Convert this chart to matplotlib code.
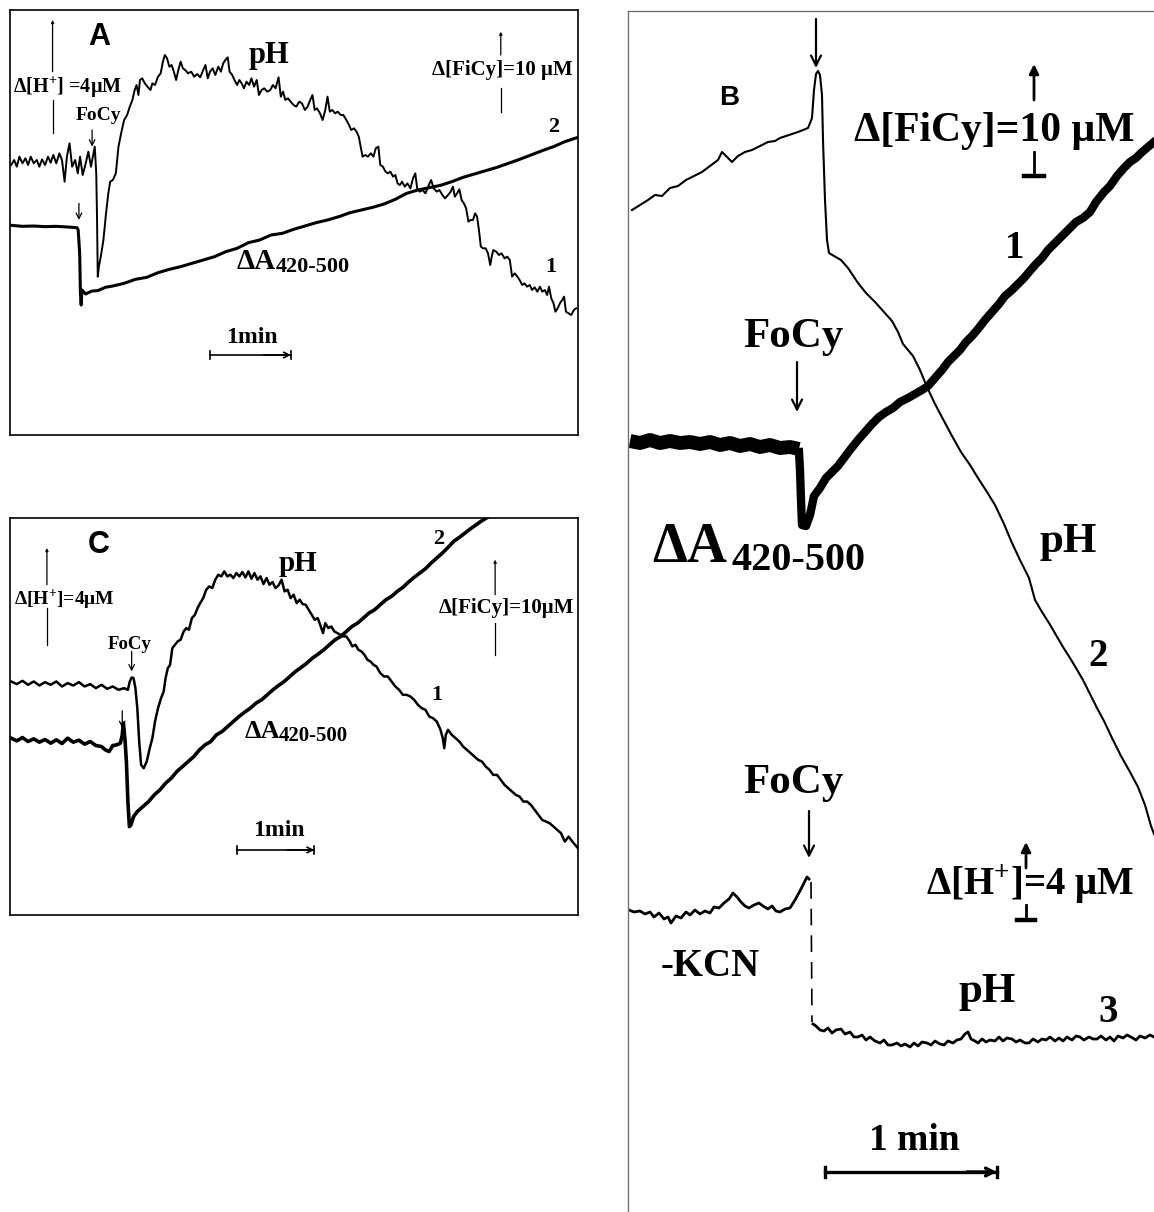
import matplotlib.pyplot as plt

plt.rcParams['font.family'] = ['Liberation Serif', 'DejaVu Serif']
plt.rcParams['font.weight'] = 'bold'
plt.rcParams['mathtext.fontset'] = 'custom'
plt.rcParams['mathtext.rm'] = 'Liberation Serif:bold'
plt.rcParams['mathtext.bf'] = 'Liberation Serif:bold'

# ---------- panel A (recorder units, y grows downward) ----------
a_ph_x = [30, 38, 45, 52, 60, 68, 75, 82, 90, 98, 105, 112, 120, 128, 135, 142, 150, 158, 165, 172, 178, 185,
          192, 200, 207, 213, 220, 228, 235, 242, 248, 252, 256, 258, 260, 263, 268, 275, 282, 288, 293, 300,
          308, 315, 322, 330, 338, 345, 352, 358, 363, 368, 372, 378, 385, 392, 400, 405, 412, 420, 427, 433,
          438, 444, 450, 456, 462, 468, 474, 480, 486, 492, 500, 508, 516, 524, 532, 540, 546, 552, 558, 565,
          572, 580, 587, 593, 600, 605, 610, 617, 623, 630, 636, 642, 648, 655, 662, 668, 675, 682, 688, 695,
          702, 710, 718, 725, 732, 740, 746, 752, 758, 765, 772, 780, 787, 795, 802, 810, 817, 824, 830, 836,
          842, 850, 857, 864, 870, 876, 883, 890, 897, 905, 912, 920, 927, 933, 940, 947, 953, 958, 963, 970,
          977, 985, 992, 998, 1005, 1010, 1017, 1024, 1030, 1037, 1044, 1050, 1056, 1062, 1068, 1075, 1082,
          1090, 1097, 1103, 1108, 1115, 1122, 1130, 1137, 1145, 1152, 1160, 1167, 1175, 1182, 1190, 1197,
          1203, 1208, 1214, 1220, 1226, 1232, 1238, 1244, 1250, 1256, 1262, 1267, 1272, 1277, 1283, 1290,
          1296, 1302, 1306, 1310, 1318, 1325, 1332, 1340, 1347, 1354, 1360, 1367, 1374, 1380, 1387, 1393,
          1400, 1407, 1413, 1420, 1427, 1434, 1440, 1447, 1453, 1458, 1464, 1470, 1475, 1481, 1487, 1493,
          1498, 1503, 1510, 1517, 1524, 1530]
a_ph_y = [495, 480, 500, 470, 490, 475, 495, 470, 490, 480, 500, 478, 495, 470, 488, 465, 490, 460, 480, 545, 470, 430,
          500, 480, 520, 470, 525, 490, 455, 500, 465, 440, 520, 650, 830, 800, 770, 720, 640, 580, 545, 540,
          520, 440, 400, 360, 345, 320, 300, 270, 255, 285, 240, 235, 250, 260, 270, 250, 255, 230, 220, 185,
          165, 175, 200, 195, 215, 240, 210, 185, 205, 210, 220, 215, 230, 222, 232, 210, 195, 235, 215, 205,
          225, 200, 215, 190, 178, 172, 215, 225, 240, 255, 240, 250, 265, 245, 255, 235, 260, 240, 285, 270,
          265, 275, 270, 255, 265, 232, 290, 275, 300, 295, 305, 315, 320, 305, 310, 330, 320, 300, 285, 330,
          325, 340, 360, 330, 290, 335, 330, 340, 335, 345, 345, 360, 375, 390, 385, 395, 410, 440, 470, 465,
          470, 460, 470, 445, 440, 495, 500, 515, 520, 515, 530, 525, 550, 555, 545, 560, 550,
          565, 535, 520, 565, 575, 570, 580, 560, 540, 565, 575, 570, 585, 595, 585, 575,
          560, 590, 580, 568, 600, 610, 625, 665, 660, 660, 640, 650, 690, 740, 745, 745,
          760, 795, 770, 750, 755, 765, 760, 775, 770, 780, 830, 820, 830, 840, 855, 850,
          860, 855, 870, 862, 875, 860, 875, 870, 885, 860, 895, 910, 935, 925, 910, 900,
          890, 935, 940, 945, 930, 925]
a_abs_x = [30, 60, 90, 120, 150, 180, 205, 208, 212, 214, 216, 218, 222, 228, 235, 245, 260, 280, 300, 330, 360,
           390, 420, 450, 480, 510, 540, 570, 600, 630, 660, 690, 720, 750, 780, 810, 840, 870, 900, 930, 960,
           990, 1020, 1050, 1080, 1110, 1140, 1170, 1200, 1230, 1260, 1290, 1320, 1350, 1380, 1410, 1440, 1470,
           1500, 1535]
a_abs_y = [676, 679, 678, 680, 679, 681, 683, 690, 760, 880, 915, 870, 875, 882, 878, 873, 872, 862, 858, 850, 838,
           832, 818, 808, 800, 790, 780, 770, 755, 745, 728, 720, 705, 700, 688, 678, 668, 660, 650, 638, 630,
           622, 612, 598, 580, 570, 563, 556, 545, 532, 522, 512, 502, 490, 478, 465, 452, 440,
           425, 412]

# ---------- panel C ----------
c_ph_x = [30, 45, 60, 75, 90, 105, 120, 135, 150, 165, 180, 195, 210, 225, 240, 255, 270, 285, 300, 315, 330, 340,
          345, 350, 355, 360, 365, 370, 375, 382, 390, 398, 405, 412, 420, 428, 435, 440, 446, 452, 458, 465,
          472, 480, 488, 495, 502, 510, 518, 525, 532, 540, 548, 556, 564, 572, 580, 588, 596, 604, 612, 620,
          628, 636, 644, 652, 660, 668, 676, 684, 692, 700, 708, 716, 724, 732, 740, 748, 756, 764, 772, 780,
          788, 796, 804, 812, 820, 828, 836, 844, 852, 858, 864, 872, 880, 888, 896, 904, 912, 920, 928, 936,
          944, 952, 960, 968, 976, 984, 992, 1000, 1010, 1020, 1030, 1040, 1050, 1060, 1070, 1080, 1090, 1100,
          1110, 1120, 1130, 1140, 1150, 1160, 1170, 1176, 1180, 1184, 1190, 1200, 1210, 1220, 1230, 1240, 1250,
          1260, 1270, 1280, 1290, 1300, 1310, 1320, 1330, 1340, 1350, 1360, 1370, 1380, 1390, 1400, 1410, 1420,
          1430, 1440, 1450, 1460, 1470, 1480, 1490, 1500, 1510, 1520, 1535]
c_ph_y = [520, 528, 518, 530, 520, 532, 522, 530, 520, 535, 525, 532, 522, 535, 528, 540, 530, 542, 535, 545, 540, 545,
          520, 508, 510, 540, 600, 700, 770, 780, 760, 720, 690, 640, 600, 570, 550, 510, 480, 470, 420, 410,
          400, 395, 370, 360, 365, 330, 320, 300, 285, 270, 245, 235, 240, 215, 200, 205, 190, 205, 200, 210,
          195, 205, 192, 208, 190, 212, 195, 215, 205, 228, 210, 230, 222, 240, 232, 215, 250, 245, 270, 260,
          285, 275, 288, 290, 305, 320, 335, 330, 355, 375, 345, 360, 355, 370, 375, 380, 385, 385, 398, 415,
          410, 425, 430, 440, 455, 460, 470, 475, 495, 505, 505, 520, 535, 545, 560, 560, 565, 575,
          590, 600, 605, 625, 630, 640, 665, 690, 720, 680, 665, 680, 690, 700, 715, 725, 735,
          745, 755, 760, 775, 785, 800, 800, 815, 830, 840, 850, 860, 865, 880, 880, 890, 905,
          920, 935, 940, 945, 955, 965, 975, 1000, 985, 1000, 1020]
c_abs_x = [30, 45, 60, 75, 90, 105, 120, 135, 150, 165, 180, 195, 210, 225, 240, 255, 270, 280, 290, 300, 310, 320,
           325, 328, 332, 336, 340, 344, 348, 355, 365, 380, 395, 410, 425, 440, 455, 470, 485, 500, 515, 530,
           545, 560, 575, 590, 605, 620, 635, 650, 665, 680, 695, 710, 725, 740, 755, 770, 785, 800, 815, 830,
           845, 860, 875, 890, 905, 920, 935, 950, 965, 980, 995, 1010, 1025, 1040, 1055, 1070, 1085, 1100,
           1115, 1130, 1145, 1160, 1175, 1190, 1205, 1220, 1235, 1250, 1265, 1280, 1292]
c_abs_y = [690, 698, 688, 700, 692, 702, 694, 705, 695, 706, 690, 702, 696, 708, 700, 712, 715, 725, 730, 712, 710, 705,
           680, 645, 690, 760, 880, 955, 950, 925, 910, 895, 880, 860, 845, 825, 810, 790, 775, 760, 745, 725,
           710, 700, 680, 670, 655, 640, 625, 612, 600, 585, 575, 560, 545, 532, 520, 505, 490, 478, 465, 450,
           438, 425, 410, 395, 385, 370, 355, 345, 330, 315, 305, 290, 275, 265, 250, 238, 222, 208,
           195, 182, 165, 150, 135, 118, 100, 88, 75, 62, 50, 38, 30]

# ---------- panel B (page pixel units) ----------
b_ph2_x = [632, 640, 648, 655, 662, 670, 678, 686, 694, 702, 710, 718, 722, 727, 732, 738, 745, 752, 760, 768, 775,
           780, 786, 792, 798, 803, 808, 812, 814, 816, 818, 820, 822, 823, 825, 827, 829, 834, 841, 848, 858,
           866, 875, 884, 892, 898, 903, 908, 913, 920, 927, 935, 944, 952, 961, 970, 978, 987, 995, 1004, 1012,
           1020, 1029, 1035, 1042, 1049, 1056, 1063, 1070, 1076, 1083, 1090, 1097, 1104, 1112, 1121, 1130, 1138,
           1145, 1151, 1154]
b_ph2_y = [210, 205, 200, 195, 196, 188, 186, 180, 176, 172, 166, 160, 152, 157, 162, 156, 152, 150, 146, 142, 141,
           138, 136, 134, 132, 130, 128, 118, 90, 74, 71, 75, 95, 140, 200, 240, 253, 256, 260, 268, 283,
           293, 302, 312, 321, 332, 344, 350, 356, 370, 387, 404, 421, 436, 452, 465, 478, 492, 505, 524, 543,
           560, 578, 600, 612, 623, 635, 647, 658, 668, 680, 694, 708, 721, 738, 756, 772, 787,
           805, 826, 834]
# noisy baseline of trace 1 before FoCy
b_base_x = [630, 640, 650, 660, 670, 680, 690, 700, 710, 720, 730, 740, 750, 760, 770, 780, 790, 799]
b_base_y = [441, 443, 440, 443, 441, 443, 442, 444, 442, 445, 443, 446, 444, 447, 445, 448, 447, 449]
b_abs_x = [799, 800, 801, 802, 806, 810, 814, 820, 826, 832, 838, 844, 850, 858, 865, 872, 879, 886, 893, 900, 908,
           915, 922, 928, 935, 942, 948, 954, 960, 966, 972, 978, 985, 992, 999, 1005, 1012, 1018, 1024, 1029,
           1036, 1042, 1048, 1053, 1060, 1066, 1072, 1076, 1083, 1090, 1096, 1104, 1110, 1117, 1124, 1130, 1136,
           1141, 1148, 1154]
b_abs_y = [452, 470, 500, 525, 526, 515, 496, 488, 478, 472, 466, 458, 450, 440, 432, 424, 417, 412, 408, 402, 398,
           394, 390, 386, 378, 370, 362, 356, 350, 342, 336, 329, 320, 312, 304, 296, 290, 284, 278, 272,
           264, 258, 250, 245, 238, 232, 226, 222, 218, 212, 202, 192, 186, 176, 168, 162, 158,
           153, 147, 142]
b_kcn_pre_x = [629, 634, 640, 645, 650, 654, 659, 664, 668, 671, 676, 681, 686, 690, 695, 700, 705, 710, 714, 719,
               724, 729, 733, 737, 741, 745, 749, 754, 759, 763, 768, 772, 776, 780, 785, 790, 795, 801, 805, 807, 809]
b_kcn_pre_y = [910, 912, 911, 914, 912, 917, 913, 919, 917, 923, 916, 918, 912, 915, 910, 914, 911, 913, 907, 908,
               903, 899, 893, 897, 902, 906, 908, 905, 903, 906, 909, 906, 911, 912, 909, 908, 900, 889, 881, 877, 879]
b_kcn_drop_x = [811, 812]
b_kcn_drop_y = [882, 1022]
b_kcn_post_x = [813, 816, 820, 824, 828, 832, 836, 841, 845, 850, 854, 858, 862, 866, 870, 875, 880, 884, 888, 892,
                897, 901, 905, 910, 914, 918, 922, 927, 931, 935, 940, 944, 948, 953, 957, 961, 965, 968, 971, 975,
                978, 982, 986, 990, 995, 999, 1003, 1007, 1012, 1016, 1020, 1025, 1029, 1033, 1038, 1042, 1046,
                1050, 1055, 1059, 1063, 1067, 1072, 1076, 1080, 1084, 1089, 1093, 1097, 1101, 1106, 1110, 1114,
                1118, 1123, 1127, 1131, 1136, 1140, 1145, 1150, 1154]
b_kcn_post_y = [1024, 1026, 1030, 1031, 1028, 1033, 1030, 1029, 1034, 1032, 1037, 1037, 1035, 1040, 1037, 1041, 1043,
                1040, 1045, 1045, 1043, 1046, 1044, 1047, 1043, 1046, 1042, 1043, 1045, 1041, 1044, 1045, 1041, 1043,
                1040, 1039, 1034, 1032, 1039, 1041, 1043, 1039, 1042, 1040, 1041, 1037, 1041, 1038, 1039, 1042, 1040,
                1043, 1043, 1039, 1042, 1039, 1040, 1037, 1041, 1038, 1041, 1037, 1040, 1036, 1037, 1040, 1037, 1039,
                1039, 1036, 1040, 1037, 1041, 1036, 1038, 1035, 1037, 1040, 1036, 1038, 1035, 1037]

fig = plt.figure(figsize=(11.54, 12.12), dpi=100)
W, H = 1154, 1212


def panel_axes(x0, y0, x1, y1):
    return fig.add_axes([x0 / W, 1 - y1 / H, (x1 - x0) / W, (y1 - y0) / H])


def arrow(ax, x, y_from, y_to, lw=1.0, ms=10, style='->'):
    ax.annotate('', xy=(x, y_to), xytext=(x, y_from),
                arrowprops=dict(arrowstyle=style, lw=lw, color='k', shrinkA=0, shrinkB=0, mutation_scale=ms))


def conc_bar(ax, x, top, gap_top, gap_bot, bottom, tick, lw=1.0, ms=6, foot=True):
    arrow(ax, x, gap_top, top, lw=lw, ms=ms, style='-|>')
    ax.plot([x, x], [gap_bot, bottom], color='k', lw=lw)
    if foot:
        ax.plot([x - tick, x + tick], [bottom, bottom], color='k', lw=lw * 1.6)


def time_bar(ax, x0, x1, y, tick, lw=1.2, ms=10):
    ax.plot([x0, x1], [y, y], color='k', lw=lw)
    ax.plot([x0, x0], [y - tick, y + tick], color='k', lw=lw)
    ax.plot([x1, x1], [y - tick, y + tick], color='k', lw=lw)
    ax.annotate('', xy=(x1, y), xytext=(x1 - 6 * tick, y),
                arrowprops=dict(arrowstyle='->', lw=lw, color='k', shrinkA=0, shrinkB=0, mutation_scale=ms))


def boxed(ax, xlim, ylim):
    ax.set_xlim(*xlim)
    ax.set_ylim(*ylim)
    ax.set_xticks([])
    ax.set_yticks([])
    for s in ax.spines.values():
        s.set_linewidth(1.2)


# panel A
axA = panel_axes(10, 10, 578, 435)
boxed(axA, (27, 1535), (1305, 30))
axA.plot(a_ph_x, a_ph_y, color='k', lw=1.4)
axA.plot(a_abs_x, a_abs_y, color='k', lw=2.2)
axA.text(265, 112, 'A', family='Liberation Sans', weight='bold', fontsize=22, ha='center', va='center')
axA.text(715, 165, 'pH', fontsize=22, ha='center', va='center')
axA.text(180, 262, r'Δ[H$^{+}$] =4μM', fontsize=14.5, ha='center', va='center')
axA.text(262, 345, 'FoCy', fontsize=14, ha='center', va='center')
arrow(axA, 245, 390, 440, lw=0.9)
arrow(axA, 210, 610, 660, lw=0.9)
axA.text(1335, 210, 'Δ[FiCy]=10 μM', fontsize=15, ha='center', va='center')
conc_bar(axA, 140, 60, 215, 300, 400, 0, lw=0.9, ms=4, foot=False)
conc_bar(axA, 1330, 95, 165, 265, 335, 0, lw=0.9, ms=4, foot=False)
axA.text(1470, 380, '2', fontsize=16, ha='center', va='center')
axA.text(1462, 800, '1', fontsize=16, ha='center', va='center')
axA.text(628, 808, 'ΔA', fontsize=21, ha='left', va='baseline')
axA.text(732, 815, '420-500', fontsize=16, ha='left', va='baseline')
axA.text(668, 1012, '1min', fontsize=17, ha='center', va='center')
time_bar(axA, 557, 773, 1065, 12)

# panel C
axC = panel_axes(10, 518, 578, 915)
boxed(axC, (27, 1535), (1220, 30))
axC.plot(c_ph_x, c_ph_y, color='k', lw=1.8)
axC.plot(c_abs_x, c_abs_y, color='k', lw=2.6)
axC.text(262, 112, 'C', family='Liberation Sans', weight='bold', fontsize=22, ha='center', va='center')
axC.text(792, 165, 'pH', fontsize=21, ha='center', va='center')
axC.text(170, 272, r'Δ[H$^{+}$]=4μM', fontsize=14, ha='center', va='center')
axC.text(345, 410, 'FoCy', fontsize=13.5, ha='center', va='center')
arrow(axC, 350, 430, 490, lw=0.9)
arrow(axC, 325, 608, 660, lw=0.9)
conc_bar(axC, 125, 120, 230, 300, 410, 0, lw=0.9, ms=4, foot=False)
conc_bar(axC, 1315, 155, 260, 345, 440, 0, lw=0.9, ms=4, foot=False)
axC.text(1345, 300, 'Δ[FiCy]=10μM', fontsize=15, ha='center', va='center')
axC.text(1165, 92, '2', fontsize=16, ha='center', va='center')
axC.text(1160, 560, '1', fontsize=16, ha='center', va='center')
axC.text(650, 690, 'ΔA', fontsize=19, ha='left', va='baseline')
axC.text(740, 697, '420-500', fontsize=15, ha='left', va='baseline')
axC.text(740, 968, '1min', fontsize=17, ha='center', va='center')
time_bar(axC, 630, 835, 1025, 12)

# panel B (open on the right and bottom)
axB = panel_axes(628, 11, 1154, 1212)
axB.set_xlim(628, 1154)
axB.set_ylim(1212, 11)
axB.set_xticks([])
axB.set_yticks([])
for side in ['right', 'bottom']:
    axB.spines[side].set_visible(False)
axB.spines['left'].set_color('0.45')
axB.spines['top'].set_color('0.4')
axB.spines['left'].set_linewidth(1.0)
axB.spines['top'].set_linewidth(0.9)

axB.plot(b_ph2_x, b_ph2_y, color='k', lw=1.5)
axB.plot(b_base_x, b_base_y, color='k', lw=10, solid_joinstyle='round', solid_capstyle='butt')
axB.plot(b_abs_x, b_abs_y, color='k', lw=6, solid_joinstyle='round')
axB.plot(b_kcn_pre_x, b_kcn_pre_y, color='k', lw=2)
axB.plot(b_kcn_drop_x, b_kcn_drop_y, color='k', lw=1.2, dashes=(10, 6))
axB.plot(b_kcn_post_x, b_kcn_post_y, color='k', lw=2)

axB.text(729, 98, 'B', family='Liberation Sans', weight='bold', fontsize=20, ha='center', va='center')
arrow(axB, 816, 19, 68, lw=1.6, ms=18)
axB.text(994, 131, 'Δ[FiCy]=10 μM', fontsize=30, ha='center', va='center')
conc_bar(axB, 1034, 64, 100, 152, 176, 10, lw=2, ms=14)
axB.text(1015, 249, '1', fontsize=28, ha='center', va='center')
axB.text(793, 337, 'FoCy', fontsize=31, ha='center', va='center')
arrow(axB, 797, 362, 412, lw=1.6, ms=18)
axB.text(652, 562, 'ΔA', fontsize=40, ha='left', va='baseline')
axB.text(732, 570, '420-500', fontsize=29, ha='left', va='baseline')
axB.text(1068, 542, 'pH', fontsize=31, ha='center', va='center')
axB.text(1098, 657, '2', fontsize=28, ha='center', va='center')
axB.text(793, 783, 'FoCy', fontsize=31, ha='center', va='center')
arrow(axB, 809, 811, 858, lw=1.6, ms=18)
axB.text(1030, 884, r'Δ[H$^{+}$]=4 μM', fontsize=28, ha='center', va='center')
conc_bar(axB, 1026, 842, 868, 905, 920, 9, lw=2, ms=14)
axB.text(710, 966, '-KCN', fontsize=28, ha='center', va='center')
axB.text(987, 992, 'pH', fontsize=31, ha='center', va='center')
axB.text(1108, 1012, '3', fontsize=28, ha='center', va='center')
axB.text(914, 1140, '1 min', fontsize=27, ha='center', va='center')
time_bar(axB, 825, 997, 1172, 5, lw=2.4, ms=14)

fig.savefig('out.png', dpi=100)
